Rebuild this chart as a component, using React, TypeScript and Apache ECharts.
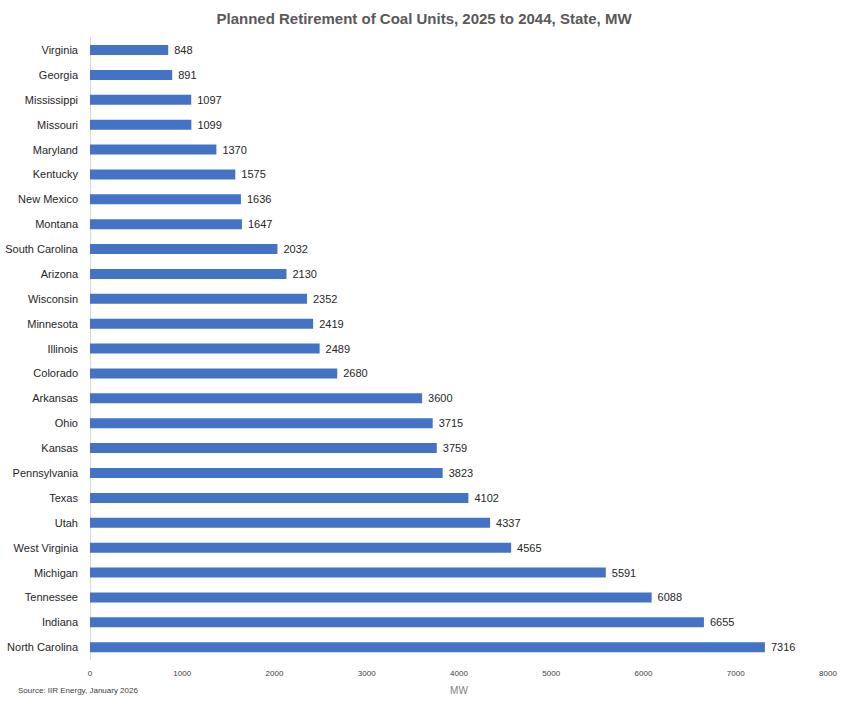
import React, { useEffect, useRef } from "react";
import * as echarts from "echarts";

const states = [
  "Virginia", "Georgia", "Mississippi", "Missouri", "Maryland", "Kentucky", "New Mexico",
  "Montana", "South Carolina", "Arizona", "Wisconsin", "Minnesota", "Illinois", "Colorado",
  "Arkansas", "Ohio", "Kansas", "Pennsylvania", "Texas", "Utah", "West Virginia", "Michigan",
  "Tennessee", "Indiana", "North Carolina",
];
const mw = [
  848, 891, 1097, 1099, 1370, 1575, 1636, 1647, 2032, 2130, 2352, 2419, 2489, 2680,
  3600, 3715, 3759, 3823, 4102, 4337, 4565, 5591, 6088, 6655, 7316,
];
const titleText = "Planned Retirement of Coal Units, 2025 to 2044, State, MW";
const sourceText = "Source: IIR Energy, January 2026";

const FONT = "'Liberation Sans', 'DejaVu Sans', sans-serif";

export default function App() {
  const ref = useRef<HTMLDivElement>(null);
  useEffect(() => {
    document.body.style.margin = "0";
    const chart = echarts.init(ref.current!, null, { renderer: "svg" });
    chart.setOption({
      animation: false,
      backgroundColor: "#ffffff",
      title: {
        text: titleText,
        left: "center",
        top: 6,
        textStyle: { fontFamily: FONT, fontSize: 15, fontWeight: "bold", color: "#595959" },
      },
      graphic: [
        {
          type: "text",
          left: 18,
          top: 686,
          style: { text: sourceText, fontFamily: FONT, fontSize: 8, fill: "#404040" },
        },
      ],
      grid: { left: 90, right: 20, top: 37.6, height: 622, containLabel: false },
      xAxis: {
        type: "value",
        min: 0,
        max: 8000,
        interval: 1000,
        name: "MW",
        nameLocation: "middle",
        nameGap: 26,
        nameTextStyle: { fontFamily: FONT, fontSize: 10, color: "#808080" },
        axisLine: { show: false },
        axisTick: { show: false },
        splitLine: { show: false },
        axisLabel: {
          fontFamily: FONT,
          fontSize: 8,
          color: "#404040",
          margin: 10,
          formatter: (v: number) => String(v),
        },
      },
      yAxis: {
        type: "category",
        data: states,
        inverse: true,
        axisLine: { show: true, lineStyle: { color: "#d9d9d9" } },
        axisTick: { show: false },
        axisLabel: { fontFamily: FONT, fontSize: 11, color: "#262626", margin: 12 },
      },
      series: [
        {
          type: "bar",
          data: mw,
          barWidth: 10,
          itemStyle: { color: "#4472c4" },
          label: {
            show: true,
            position: "right",
            distance: 6,
            fontFamily: FONT,
            fontSize: 11,
            color: "#262626",
          },
        },
      ],
    });
    return () => chart.dispose();
  }, []);
  return <div ref={ref} style={{ width: 848, height: 702 }} />;
}
